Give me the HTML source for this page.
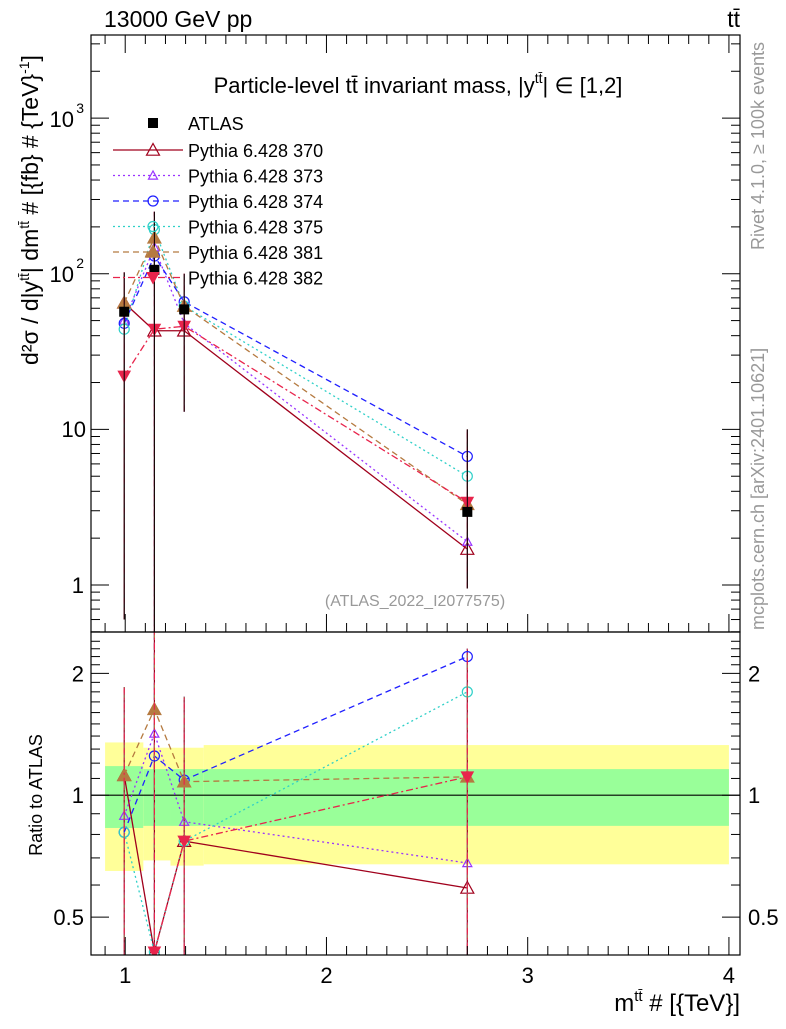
<!DOCTYPE html>
<html><head><meta charset="utf-8"><style>
body{margin:0;background:#fff;font-family:"Liberation Sans",sans-serif}
svg text{font-family:"Liberation Sans","DejaVu Sans",sans-serif}
</style></head><body>
<svg id="c" width="786" height="1024" xmlns="http://www.w3.org/2000/svg"></svg>
<script>
const binsX=[0.995,1.145,1.293,2.70];
const atlas=[57,106,59,2.95];
const atlasLo=[0.6,0.3,13,0.95];
const atlasHi=[102,250,100,10];
const series=["370","373","374","375","381","382"];
const mainVals=[[65,43,43,1.7],[50,148,48,1.9],[48,130,66,6.7],[44,192,62,5.0],[65,170,62,3.3],[22,44,46,3.4]];
const ratioVals=[[1.12,0.41,0.77,0.59],[0.89,1.42,0.86,0.68],[0.81,1.25,1.09,2.2],[0.81,0.41,0.77,1.8],[1.12,1.63,1.08,1.11],[0.3,0.41,0.77,1.11]];
const ratioLo=[0.35,0.35,0.35,0.35];
const ratioHi=[1.85,2.6,1.75,2.3];
const bandEdges=[0.9,1.09,1.225,1.39,4.0];
const yellowLo=[0.65,0.69,0.67,0.675];
const yellowHi=[1.35,1.31,1.31,1.33];
const greenLo=[0.83,0.84,0.84,0.84];
const greenHi=[1.18,1.16,1.16,1.16];
const xTicks=[1,2,3,4];
const colors=["#a0001c","#9933ff","#1f1fff","#2fd0c8","#b57a40","#e8244c"];
const dashes=["","2,3","6,4","2,3","6,4","7,3,2,3"];
const markers=["otri","otri_s","ocirc","ocirc","ftri","fdtri"];
const X0=91,X1=740,xmin=0.83,xmax=4.055;
const MT=35,MB=632,RT=632,RB=955;
const lmin=-0.302,lmax=3.534,rmin=Math.log10(0.403),rmax=Math.log10(2.53);
function sx(v){return X0+(v-xmin)/(xmax-xmin)*(X1-X0);}
function sy(v){return MB-(Math.log10(v)-lmin)/(lmax-lmin)*(MB-MT);}
function ry(v){return RB-(Math.log10(v)-rmin)/(rmax-rmin)*(RB-RT);}
const S=document.getElementById('c');const NS="http://www.w3.org/2000/svg";
function el(t,a,p){const e=document.createElementNS(NS,t);for(const k in a)e.setAttribute(k,a[k]);(p||S).appendChild(e);return e;}
function txt(x,y,s,a,p){const e=el('text',Object.assign({x:x,y:y},a||{}),p);e.textContent=s;return e;}
const defs=el('defs',{});
const cm=el('clipPath',{id:'cm'},defs);el('rect',{x:X0,y:MT,width:X1-X0,height:MB-MT},cm);
const cr=el('clipPath',{id:'cr'},defs);el('rect',{x:X0,y:RT,width:X1-X0,height:RB-RT},cr);
const gb=el('g',{'clip-path':'url(#cr)'});

for(let i=0;i<4;i++){
 const x=sx(bandEdges[i]),w=sx(bandEdges[i+1])-x;
 const y=el('rect',{x:x,y:ry(yellowHi[i]),width:w,height:ry(yellowLo[i])-ry(yellowHi[i]),fill:'#ffff99'},gb);
 
 const g=el('rect',{x:x,y:ry(greenHi[i]),width:w,height:ry(greenLo[i])-ry(greenHi[i]),fill:'#99ff99'},gb);
 
}
el('line',{x1:X0,x2:X1,y1:ry(1),y2:ry(1),stroke:'#000','stroke-width':1.2});
function marker(g,t,x,y,c){
 if(t.startsWith('otri')||t==='ftri'){const rr=t==='otri_s'?4.5:6.5;el('polygon',{points:`${x},${y-rr} ${x-rr},${y+rr*0.8} ${x+rr},${y+rr*0.8}`,fill:t==='ftri'?c:'none',stroke:c,'stroke-width':1.2},g);}
 else if(t==='fdtri'){el('polygon',{points:`${x},${y+6} ${x-6},${y-5} ${x+6},${y-5}`,fill:c,stroke:c},g);}
 else el('circle',{cx:x,cy:y,r:5,fill:'none',stroke:c,'stroke-width':1.2},g);
}
function drawPanel(vals,fy,clip,lo,hi,nm){
 const g=el('g',{'clip-path':clip});
 
 for(let s=0;s<series.length;s++){
  for(let i=0;i<4;i++)el('line',{x1:sx(binsX[i]),x2:sx(binsX[i]),y1:fy(lo[i]),y2:fy(hi[i]),stroke:colors[s],'stroke-width':1.2,'stroke-dasharray':dashes[s]},g);
  const pts=binsX.map((x,i)=>sx(x)+','+fy(vals[s][i])).join(' ');
  const l=el('polyline',{points:pts,fill:'none',stroke:colors[s],'stroke-width':1.3,'stroke-dasharray':dashes[s]},g);
  
  for(let i=0;i<4;i++)marker(g,markers[s],sx(binsX[i]),fy(vals[s][i]),colors[s]);
 }
 return g;
}
drawPanel(mainVals,sy,'url(#cm)',atlasLo,atlasHi,'main-series');
const ga=el('g',{'clip-path':'url(#cm)'});

for(let i=0;i<4;i++){el('line',{x1:sx(binsX[i]),x2:sx(binsX[i]),y1:sy(atlasLo[i]),y2:sy(atlasHi[i]),stroke:'#000','stroke-width':1},ga);
 el('rect',{x:sx(binsX[i])-5,y:sy(atlas[i])-5,width:10,height:10,fill:'#000'},ga);}
drawPanel(ratioVals,ry,'url(#cr)',ratioLo,ratioHi,'ratio-series');
el('rect',{x:X0,y:MT,width:X1-X0,height:MB-MT,fill:'none',stroke:'#000','stroke-width':1.2});
el('rect',{x:X0,y:RT,width:X1-X0,height:RB-RT,fill:'none',stroke:'#000','stroke-width':1.2});
for(let d=-1;d<=3;d++)for(let m=1;m<10;m++){const v=m*Math.pow(10,d);const y=sy(v);if(y<MT||y>MB)continue;const L=m===1?18:9;
 el('line',{x1:X0,x2:X0+L,y1:y,y2:y,stroke:'#000'});el('line',{x1:X1,x2:X1-L,y1:y,y2:y,stroke:'#000'});}
txt(84,593,"1",{'text-anchor':'end','font-size':22});txt(86,437,"10",{'text-anchor':'end','font-size':22});
txt(74,282,"10",{'text-anchor':'end','font-size':22});txt(84,268,"2",{'text-anchor':'end','font-size':14});
txt(74,127,"10",{'text-anchor':'end','font-size':22});txt(84,113,"3",{'text-anchor':'end','font-size':14});
for(let v=0.4;v<=2.5;v+=0.1){const vv=Math.round(v*10)/10;const y=ry(vv);if(y<RT||y>RB)continue;const L=(vv===0.5||vv===1||vv===2)?18:9;
 el('line',{x1:X0,x2:X0+L,y1:y,y2:y,stroke:'#000'});el('line',{x1:X1,x2:X1-L,y1:y,y2:y,stroke:'#000'});}
[[2,"2"],[1,"1"],[0.5,"0.5"]].forEach(t=>{txt(84,ry(t[0])+8,t[1],{'text-anchor':'end','font-size':22});txt(748,ry(t[0])+8,t[1],{'font-size':22});});
for(let v=0.9;v<=4.05;v+=0.1){const vv=Math.round(v*10)/10;const x=sx(vv);const L=Number.isInteger(vv)?18:9;
 el('line',{x1:x,x2:x,y1:RB,y2:RB-L,stroke:'#000'});el('line',{x1:x,x2:x,y1:MB,y2:MB-L,stroke:'#000'});el('line',{x1:x,x2:x,y1:MT,y2:MT+L,stroke:'#000'});}
xTicks.forEach(v=>{const t=txt(sx(v),983,String(v),{'text-anchor':'middle','font-size':22});});
const lg=el('g',{});
el('rect',{x:148,y:118,width:10,height:10,fill:'#000'},lg);txt(188,130,"ATLAS",{'font-size':18},lg);
for(let s=0;s<series.length;s++){const y=150+s*25.5;
 el('line',{x1:113,x2:183,y1:y,y2:y,stroke:colors[s],'stroke-width':1.3,'stroke-dasharray':dashes[s]},lg);
 marker(lg,markers[s],153,y,colors[s]);
 txt(188,y+7,"Pythia 6.428 "+series[s],{'font-size':18},lg);}
</script>
<svg width="786" height="1024" style="position:absolute;left:0;top:0" xmlns="http://www.w3.org/2000/svg">
<text x="104" y="27" font-size="23">13000 GeV pp</text>
<text x="740" y="27" font-size="23" text-anchor="end">tt̄</text>
<text x="418" y="93" font-size="22" text-anchor="middle">Particle-level tt̄ invariant mass, |y<tspan font-size="14" dy="-10">tt̄</tspan><tspan dy="10">| ∈ [1,2]</tspan></text>
<text x="415" y="606" font-size="16" fill="#999" text-anchor="middle">(ATLAS_2022_I2077575)</text>
<text transform="translate(38,210) rotate(-90)" font-size="23" text-anchor="middle">d²σ / d|y<tspan font-size="14" dy="-9">tt̄</tspan><tspan dy="9">| dm</tspan><tspan font-size="14" dy="-9">tt̄</tspan><tspan dy="9"> # [{fb} # {TeV}</tspan><tspan font-size="14" dy="-9">-1</tspan><tspan dy="9">]</tspan></text>
<text transform="translate(42,795) rotate(-90)" font-size="18" text-anchor="middle">Ratio to ATLAS</text>
<text x="740" y="1011" font-size="24" text-anchor="end">m<tspan font-size="15" dy="-10">tt̄</tspan><tspan dy="10"> # [{TeV}]</tspan></text>
<text transform="translate(764,250) rotate(-90)" font-size="18" fill="#999">Rivet 4.1.0, ≥ 100k events</text>
<text transform="translate(764,630) rotate(-90)" font-size="18" fill="#999">mcplots.cern.ch [arXiv:2401.10621]</text>
</svg>
</body></html>
